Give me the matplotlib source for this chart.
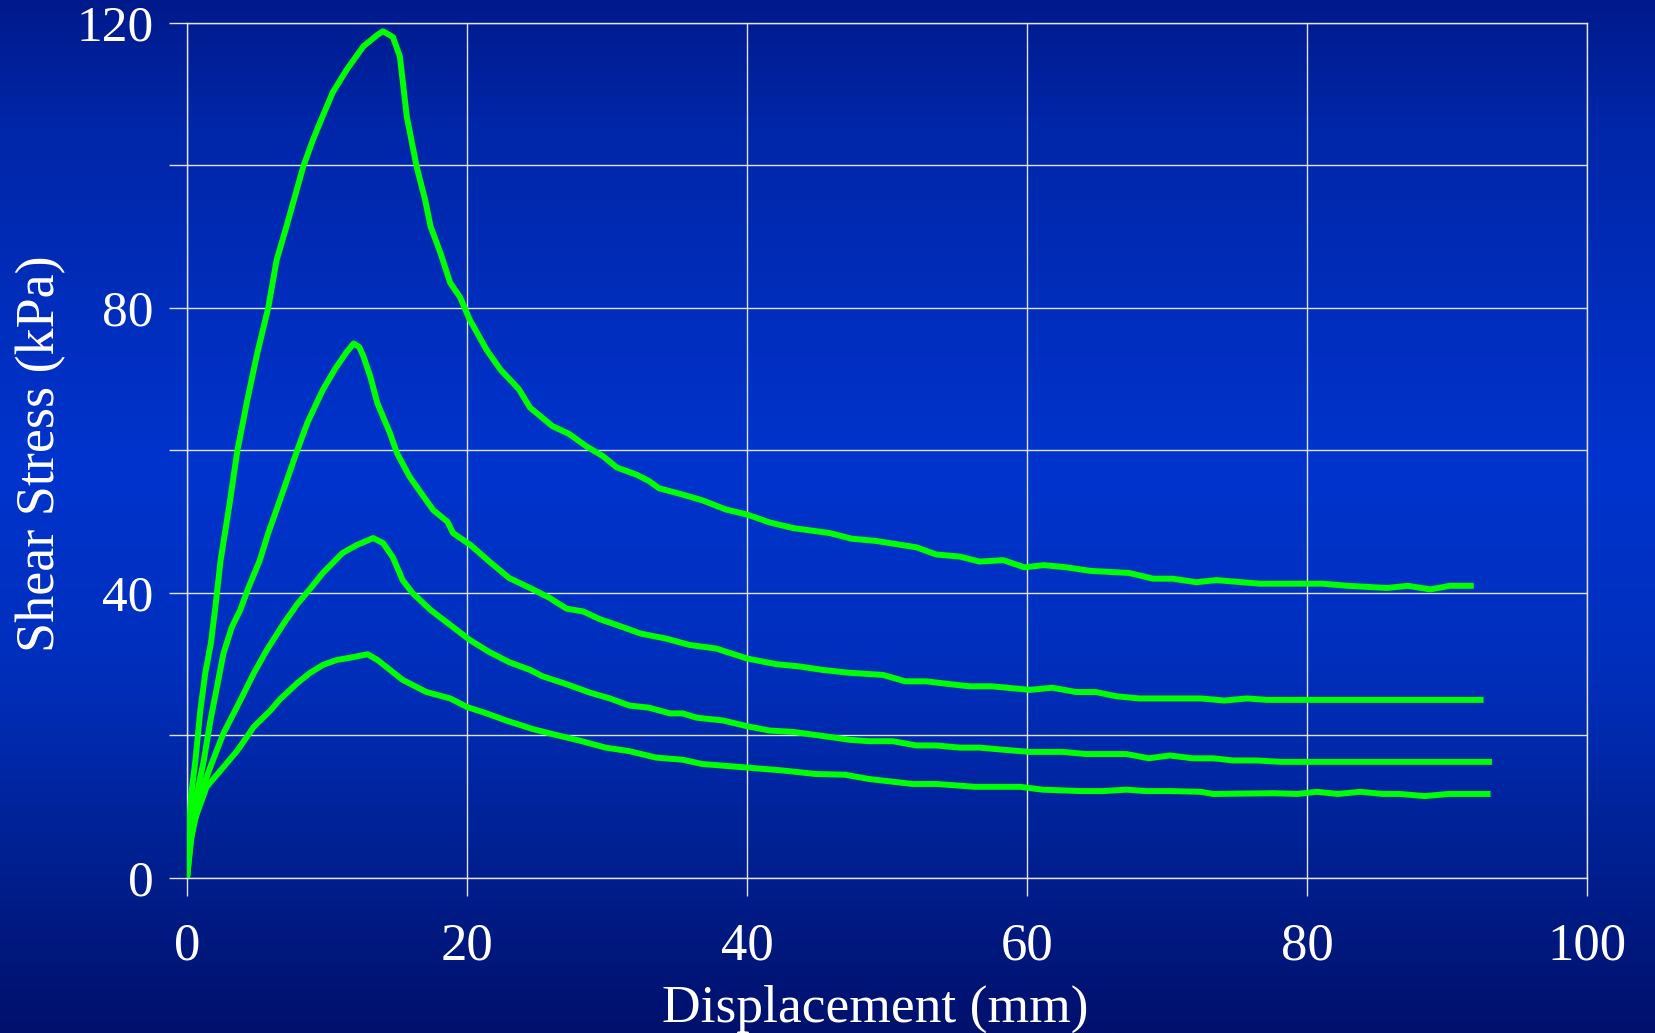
import numpy as np
import matplotlib
matplotlib.use("Agg")
import matplotlib.pyplot as plt
from matplotlib.colors import LinearSegmentedColormap

# shear stress vs displacement, four tests
x1 = [0, 0.05, 0.12, 0.3, 0.6, 0.95, 1.3, 1.7, 2.0, 2.4, 3.0, 3.6, 4.3, 5.0, 5.8, 6.4, 7.1, 7.7,
      8.3, 9.0, 9.5, 10.4, 11.4, 12.6, 13.6, 14.0, 14.7, 15.2, 15.7, 16.4, 17.0, 17.4, 18.1,
      18.8, 19.5, 20.2, 21.4, 22.4, 23.7, 24.5, 26.1, 27.3, 28.5, 29.7, 30.7, 32.1, 33.0, 33.7,
      35.4, 36.8, 38.5, 40.0, 41.6, 43.3, 45.9, 47.5, 49.2, 52.1, 53.5, 55.2, 56.6, 58.3, 59.8,
      61.2, 62.8, 64.5, 67.3, 69.0, 70.4, 72.1, 73.5, 76.6, 81.1, 82.9, 85.7, 87.2, 88.8, 90.2, 91.9]
y1 = [0, 4.0, 6.2, 11.8, 16.5, 23.5, 28.7, 32.9, 37.6, 44.6, 52.0, 60.0, 67.0, 73.5, 80.0, 86.7, 91.4, 95.6,
      99.8, 103.6, 106.0, 110.2, 113.4, 116.7, 118.3, 118.8, 118.0, 115.3, 106.8, 99.8, 95.2, 91.4, 87.7,
      83.5, 81.5, 78.3, 74.1, 71.3, 68.6, 66.0, 63.4, 62.3, 60.6, 59.2, 57.6, 56.6, 55.7, 54.7,
      53.8, 53.0, 51.7, 51.0, 49.9, 49.1, 48.4, 47.6, 47.3, 46.4, 45.4, 45.1, 44.4, 44.6, 43.6,
      43.9, 43.6, 43.1, 42.8, 42.0, 42.0, 41.5, 41.8, 41.3, 41.3, 41.0, 40.7, 41.0, 40.5, 41.0, 41.0]

x2 = [0, 0.3, 0.7, 1.2, 1.67, 2.14, 2.6, 3.2, 3.8, 4.4, 5.2, 5.8, 6.9, 7.8, 8.6, 9.7, 10.6, 11.4,
      11.9, 12.3, 12.6, 13.1, 13.6, 14.5, 15.0, 15.9, 16.9, 17.6, 18.6, 19.0, 20.2, 21.6, 23.0,
      24.5, 25.9, 27.1, 28.3, 29.5, 30.7, 32.4, 34.2, 35.9, 37.8, 40.0, 42.1, 43.7, 45.4, 47.3,
      49.7, 51.3, 52.8, 54.5, 55.9, 57.5, 60.2, 61.8, 63.5, 64.9, 66.4, 68.0, 70.9, 72.4, 74.1,
      75.7, 77.1, 92.6]
y2 = [0, 6.0, 11.8, 16.5, 22.1, 26.8, 31.5, 35.2, 37.6, 40.8, 44.6, 48.4, 54.5, 59.6, 63.9, 68.5, 71.5, 73.8,
      75.0, 74.5, 73.2, 70.3, 66.6, 62.4, 59.6, 56.3, 53.5, 51.6, 50.0, 48.4, 46.8, 44.4, 42.1,
      40.7, 39.3, 37.8, 37.4, 36.3, 35.5, 34.3, 33.6, 32.7, 32.2, 30.8, 30.0, 29.7, 29.2, 28.8,
      28.5, 27.6, 27.6, 27.2, 26.9, 26.9, 26.4, 26.7, 26.1, 26.1, 25.5, 25.2, 25.2, 25.2, 24.9,
      25.2, 25.0, 25.0]

x3 = [0, 0.3, 0.95, 1.67, 2.6, 3.8, 4.76, 5.7, 6.9, 7.9, 8.8, 9.7, 11.1, 12.1, 13.3, 14.0, 14.7,
      15.4, 16.1, 17.4, 18.8, 20.2, 21.6, 23.0, 24.5, 25.4, 27.1, 28.8, 30.2, 31.6, 33.0, 34.5,
      35.4, 36.4, 38.3, 40.0, 41.6, 43.3, 45.9, 47.3, 48.7, 50.4, 52.1, 53.5, 55.2, 56.6, 58.3,
      60.2, 62.5, 64.2, 67.1, 68.7, 70.2, 71.8, 73.3, 74.7, 76.4, 78.1, 93.2]
y3 = [0, 5.5, 11.8, 15.6, 20.3, 24.9, 28.7, 32.0, 35.7, 38.5, 40.6, 42.8, 45.6, 46.7, 47.7, 47.0, 45.0,
      41.8, 40.0, 37.6, 35.5, 33.4, 31.7, 30.3, 29.2, 28.3, 27.2, 26.0, 25.2, 24.2, 23.9, 23.1,
      23.1, 22.5, 22.1, 21.3, 20.7, 20.5, 19.8, 19.4, 19.2, 19.2, 18.6, 18.6, 18.3, 18.3, 18.0,
      17.7, 17.7, 17.4, 17.4, 16.8, 17.2, 16.8, 16.8, 16.5, 16.5, 16.3, 16.3]

x4 = [0, 0.1, 0.3, 0.7, 1.4, 2.4, 3.6, 4.76, 5.95, 6.6, 7.9, 8.8, 9.7, 10.7, 11.6, 12.9, 13.6, 14.5,
      15.4, 17.1, 18.8, 20.0, 21.4, 22.8, 24.7, 26.1, 28.0, 29.9, 31.6, 33.5, 35.4, 36.8, 40.0,
      42.5, 44.9, 47.0, 48.7, 51.8, 53.5, 56.3, 59.5, 61.1, 63.9, 65.4, 67.1, 68.5, 70.2, 72.4,
      73.3, 77.6, 79.3, 80.7, 82.2, 83.8, 85.4, 86.6, 88.4, 90.1, 93.1]
y4 = [0, 3.0, 6.5, 9.0, 12.8, 15.1, 17.9, 21.2, 23.5, 25.0, 27.4, 28.8, 29.9, 30.6, 30.9, 31.4, 30.6, 29.2,
      27.8, 26.1, 25.2, 24.0, 23.1, 22.1, 20.9, 20.2, 19.3, 18.3, 17.8, 16.9, 16.6, 16.0, 15.5,
      15.1, 14.6, 14.5, 13.9, 13.2, 13.2, 12.8, 12.8, 12.4, 12.2, 12.2, 12.4, 12.2, 12.2, 12.1,
      11.8, 11.9, 11.8, 12.1, 11.8, 12.1, 11.8, 11.8, 11.5, 11.8, 11.8]

curves = [(x1, y1), (x2, y2), (x3, y3), (x4, y4)]

x_ticks = [0, 20, 40, 60, 80, 100]
y_ticks = [0, 20, 40, 60, 80, 100, 120]
y_labels = ['0', '', '40', '', '80', '', '120']

font = 'Liberation Serif'
fs = 37
grid_col = '#dfe3f5'

fig = plt.figure(figsize=(16.55, 10.33), dpi=100)

# vertical blue gradient background
bg = fig.add_axes([0, 0, 1, 1])
cmap = LinearSegmentedColormap.from_list('bg', [
    (0.0, (0 / 255, 26 / 255, 140 / 255)),
    (0.12, (0 / 255, 38 / 255, 168 / 255)),
    (0.45, (0 / 255, 52 / 255, 205 / 255)),
    (0.65, (0 / 255, 47 / 255, 188 / 255)),
    (0.85, (0 / 255, 30 / 255, 140 / 255)),
    (1.0, (0 / 255, 16 / 255, 108 / 255)),
])
grad = np.linspace(0, 1, 512).reshape(-1, 1)
bg.imshow(grad, aspect='auto', cmap=cmap, extent=[0, 1, 0, 1], origin='upper')
bg.axis('off')

ax = fig.add_axes([0.113, 0.150, 0.846, 0.828])
ax.set_facecolor('none')

for xx, yy in curves:
    ax.plot(xx, yy, color='#00ff00', lw=4.3, solid_capstyle='butt', solid_joinstyle='round', zorder=3)

ax.set_xlim(0, 100)
ax.set_ylim(0, 120)
ax.set_xticks(x_ticks)
ax.set_xticklabels([str(t) for t in x_ticks])
ax.set_yticks(y_ticks)
ax.set_yticklabels(y_labels)
ax.grid(True, color=grid_col, lw=1.0, zorder=1)
for sp in ax.spines.values():
    sp.set_color(grid_col)
    sp.set_linewidth(1.0)
ax.tick_params(axis='both', colors=grid_col, length=13, width=1.0, direction='out')
ax.tick_params(axis='x', pad=19, labelcolor='white', labelsize=38)
ax.tick_params(axis='y', pad=11, labelcolor='white', labelsize=fs)
for lab in ax.get_xticklabels() + ax.get_yticklabels():
    lab.set_fontfamily(font)

fig.text(0.529, 0.0106, 'Displacement (mm)', color='white', fontsize=38.5, family=font,
         ha='center', va='baseline')
fig.text(0.0245, 0.561, 'Shear Stress (kPa)', color='white', fontsize=39, family=font,
         ha='center', va='center', rotation=90)

fig.savefig('out.png', dpi=100)
